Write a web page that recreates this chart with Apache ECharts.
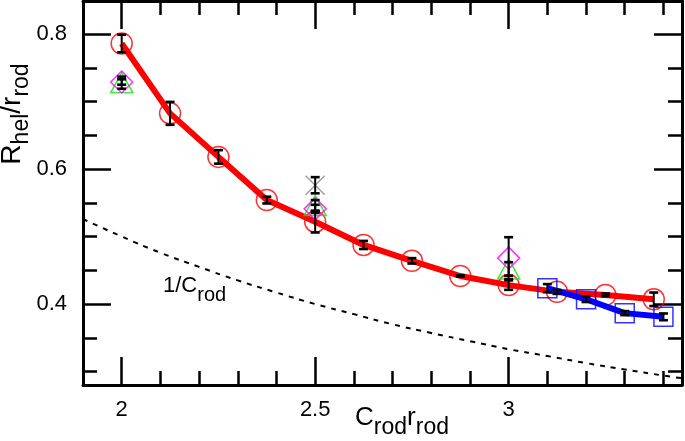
<!DOCTYPE html>
<html>
<head>
<meta charset="utf-8">
<script src="https://cdn.jsdelivr.net/npm/echarts@6/dist/echarts.min.js"></script>
<style>html,body{margin:0;padding:0;background:#fff;}#c{width:685px;height:441px;}</style>
</head>
<body>
<div id="c"></div>
<script>
// ---- data ----
const xMajorTicks = [2, 2.5, 3];
const xMinorTicks = [2.1, 2.2, 2.3, 2.4, 2.6, 2.7, 2.8, 2.9, 3.1, 3.2, 3.3, 3.4];
const yMajorTicks = [0.4, 0.6, 0.8];
const yMinorTicks = [0.3, 0.35, 0.45, 0.5, 0.55, 0.65, 0.7, 0.75];

const redX   = [2, 2.125, 2.25, 2.375, 2.5, 2.625, 2.75, 2.875, 3.0, 3.125, 3.25, 3.375];
const redY   = [0.786, 0.6825, 0.618, 0.554, 0.522, 0.4875, 0.464, 0.4415, 0.428, 0.418, 0.4135, 0.407];
const redErr = [0.013, 0.017, 0.010, 0.005, 0.016, 0.006, 0.004, 0.001, 0.007, 0.003, 0.002, 0.010];

const blueX   = [3.1, 3.2, 3.3, 3.4];
const blueY   = [0.4235, 0.407, 0.3865, 0.381];
const blueErr = [0.006, 0.004, 0.003, 0.005];

const greenX   = [2, 2.5, 3];
const greenY   = [0.728, 0.546, 0.452];
const greenErr = [0.009, 0.008, 0.010];

const magentaX   = [2, 2.5, 3];
const magentaY   = [0.729, 0.541, 0.468];
const magentaErr = [0.004, 0.006, 0.031];

const grayX   = [2.5];
const grayY   = [0.576];
const grayErr = [0.012];

// dotted reference curve 1/C_rod
const curveX = [1.9, 2.0, 2.1, 2.2, 2.3, 2.4, 2.5, 2.6, 2.7, 2.8, 2.9, 3.0, 3.1, 3.2, 3.3, 3.4, 3.448];
const curveY = [0.526, 0.5, 0.476, 0.455, 0.435, 0.417, 0.4, 0.385, 0.370, 0.357, 0.345, 0.333, 0.323, 0.3125, 0.303, 0.294, 0.290];

const X_MIN = 1.9, X_MAX = 3.448, Y_MIN = 0.28, Y_MAX = 0.849;

// ---- build ----
const zip = (xs, ys) => xs.map((x, i) => [x, ys[i]]);
const zip3 = (xs, ys, es) => xs.map((x, i) => [x, ys[i], es[i]]);
const errData = [].concat(
  zip3(redX, redY, redErr), zip3(blueX, blueY, blueErr),
  zip3(greenX, greenY, greenErr), zip3(magentaX, magentaY, magentaErr),
  zip3(grayX, grayY, grayErr));

const FONT = '"Liberation Sans", Arial, Helvetica, sans-serif';

function xAxisDef(pos, vals, len, line, labels) {
  return {
    type: 'value', min: X_MIN, max: X_MAX, position: pos,
    axisLine: {show: line, onZero: false, lineStyle: {color: '#000', width: 3}},
    axisTick: {show: true, inside: true, length: len, customValues: vals, lineStyle: {color: '#000', width: 2.5}},
    axisLabel: {show: labels, customValues: vals, color: '#000', fontSize: 22, fontFamily: FONT, margin: 14},
    splitLine: {show: false}
  };
}
function yAxisDef(pos, vals, len, line, labels) {
  return {
    type: 'value', min: Y_MIN, max: Y_MAX, position: pos,
    axisLine: {show: line, onZero: false, lineStyle: {color: '#000', width: 3}},
    axisTick: {show: true, inside: true, length: len, customValues: vals, lineStyle: {color: '#000', width: 2.5}},
    axisLabel: {show: labels, customValues: vals, color: '#000', fontSize: 22, fontFamily: FONT, margin: 16,
      formatter: v => v.toFixed(1)},
    splitLine: {show: false}
  };
}

function hollow(color) {
  return {color: 'rgba(0,0,0,0)', borderColor: color, borderWidth: 1.5};
}

const option = {
  animation: false,
  backgroundColor: '#fff',
  grid: {left: 83, right: 3, top: 1, bottom: 56},
  xAxis: [
    xAxisDef('bottom', xMajorTicks, 28, true, true),
    xAxisDef('bottom', xMinorTicks, 14, false, false),
    xAxisDef('top', xMajorTicks, 28, true, false),
    xAxisDef('top', xMinorTicks, 14, false, false)
  ],
  yAxis: [
    yAxisDef('left', yMajorTicks, 28, true, true),
    yAxisDef('left', yMinorTicks, 14, false, false),
    yAxisDef('right', yMajorTicks, 28, true, false),
    yAxisDef('right', yMinorTicks, 14, false, false)
  ],
  series: [
    {type: 'line', data: zip(curveX, curveY), smooth: true, symbol: 'none', z: 1,
      lineStyle: {color: '#000', width: 2, type: [5, 6]}},
    {type: 'line', data: zip(redX, redY), symbol: 'none', z: 2,
      lineStyle: {color: '#ff0000', width: 6}},
    {type: 'scatter', data: zip(redX, redY), symbol: 'circle', symbolSize: 21, z: 3,
      itemStyle: hollow('#ff0000')},
    {type: 'line', data: zip(blueX, blueY), symbol: 'none', z: 4,
      lineStyle: {color: '#0000ff', width: 6}},
    {type: 'scatter', data: zip(blueX, blueY), symbol: 'rect', symbolSize: 19, z: 5,
      itemStyle: hollow('#0000ff')},
    {type: 'scatter', data: zip(greenX, greenY), symbol: 'triangle', symbolSize: [22, 20], z: 6,
      itemStyle: hollow('#00ee00')},
    {type: 'scatter', data: zip(magentaX, magentaY), symbol: 'diamond', symbolSize: [22, 22], z: 7,
      itemStyle: hollow('#ff00ff')},
    {type: 'scatter', data: zip(grayX, grayY), symbol: 'path://M0,0L10,10M10,0L0,10', symbolSize: 19, z: 8,
      itemStyle: {color: 'none', borderColor: '#888888', borderWidth: 1.5}},
    {type: 'custom', z: 10, data: errData,
      renderItem: function (params, api) {
        const x = api.value(0), y = api.value(1), e = api.value(2);
        const top = api.coord([x, y + e]);
        const bot = api.coord([x, y - e]);
        const hw = 4.5;
        const st = {stroke: '#000', lineWidth: 2};
        const cs = {stroke: '#000', lineWidth: 2.6};
        return {type: 'group', children: [
          {type: 'line', shape: {x1: top[0], y1: top[1], x2: bot[0], y2: bot[1]}, style: st},
          {type: 'line', shape: {x1: top[0] - hw, y1: top[1], x2: top[0] + hw, y2: top[1]}, style: cs},
          {type: 'line', shape: {x1: bot[0] - hw, y1: bot[1], x2: bot[0] + hw, y2: bot[1]}, style: cs}
        ]};
      }}
  ],
  graphic: [
    {type: 'text', x: 402, y: 405, z: 20,
      style: {text: '{m|C}{s|rod}{m|r}{s|rod}', align: 'center', verticalAlign: 'top', fill: '#000',
        rich: {
          m: {fontSize: 26, lineHeight: 30, verticalAlign: 'top', fontFamily: FONT, fill: '#000'},
          s: {fontSize: 23, lineHeight: 22, verticalAlign: 'top', padding: [11, 0, 0, 0], fontFamily: FONT, fill: '#000'}
        }}},
    {type: 'text', x: 163, y: 275, z: 20,
      style: {text: '{m|1/C}{s|rod}', align: 'left', verticalAlign: 'top', fill: '#000',
        rich: {
          m: {fontSize: 22, lineHeight: 26, verticalAlign: 'top', fontFamily: FONT, fill: '#000'},
          s: {fontSize: 20, lineHeight: 20, verticalAlign: 'top', padding: [10, 0, 0, 0], fontFamily: FONT, fill: '#000'}
        }}},
    {type: 'text', x: -2, y: 114, rotation: Math.PI / 2, z: 20,
      style: {text: '{m|R}{s|hel}{m|/r}{s|rod}', align: 'center', verticalAlign: 'top', fill: '#000',
        rich: {
          m: {fontSize: 28, lineHeight: 32, verticalAlign: 'top', fontFamily: FONT, fill: '#000'},
          s: {fontSize: 23, lineHeight: 22, verticalAlign: 'top', padding: [12, 0, 0, 0], fontFamily: FONT, fill: '#000'}
        }}}
  ]
};

const chart = echarts.init(document.getElementById('c'), null, {renderer: 'canvas'});
chart.setOption(option);
</script>
</body>
</html>
